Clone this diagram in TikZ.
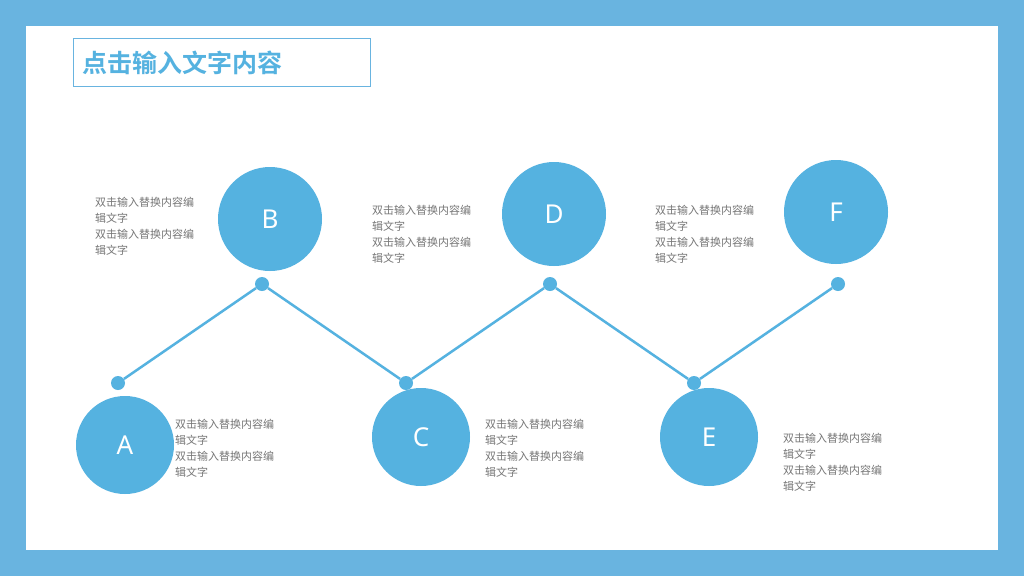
\documentclass[tikz,border=0pt]{standalone}
\usepackage{fontspec}
\newfontfamily\cjk{Noto Sans CJK SC}
\newfontfamily\cjkb{Noto Sans CJK SC Bold}
\setsansfont{Noto Sans}
\definecolor{frame}{HTML}{69B4E0}
\definecolor{cblue}{HTML}{55B2E0}
\definecolor{tgray}{HTML}{777777}
\begin{document}
\begin{tikzpicture}[x=1pt,y=-1pt,
  big/.style={circle,fill=cblue,minimum size=#1,inner sep=0pt,text=white,font=\sffamily\bfseries\fontsize{26}{26}\selectfont},
  dot/.style={circle,fill=cblue,minimum size=14pt,inner sep=0pt},
  desc/.style={anchor=north west,align=left,text=tgray,inner sep=0pt,font=\cjk\fontsize{11}{16}\selectfont},
  link/.style={draw=cblue,line width=2.5pt}]
\fill[frame] (0,0) rectangle (1024,576);
\fill[white] (26,26) rectangle (998,550);
\node[draw=frame,line width=1pt,minimum width=297pt,minimum height=48pt,anchor=north west,inner sep=0pt] (tb) at (73,38) {};
\node[anchor=west,text=cblue,font=\cjkb\fontsize{25}{25}\selectfont,inner sep=0pt] (title) at (82,63) {点击输入文字内容};
\node[big=98pt] (A) at (125,445) {A};
\node[big=104pt] (B) at (270,219) {B};
\node[big=98pt] (C) at (421,437) {C};
\node[big=104pt] (D) at (554,214) {D};
\node[big=98pt] (E) at (709,437) {E};
\node[big=104pt] (F) at (836,212) {F};
\node[dot] (a) at (118,383) {};
\node[dot] (b) at (262,284) {};
\node[dot] (c) at (406,383) {};
\node[dot] (d) at (550,284) {};
\node[dot] (e) at (694,383) {};
\node[dot] (f) at (838,284) {};
\draw[link] (a)--(b)--(c)--(d)--(e)--(f);
\newcommand{\dtxt}{双击输入替换内容编\\辑文字\\双击输入替换内容编\\辑文字}
\node[desc] (tB) at (95,197) {\dtxt};
\node[desc] (tD) at (372,205) {\dtxt};
\node[desc] (tF) at (655,205) {\dtxt};
\node[desc] (tA) at (175,419) {\dtxt};
\node[desc] (tC) at (485,419) {\dtxt};
\node[desc] (tE) at (783,433) {\dtxt};
\end{tikzpicture}
\end{document}
